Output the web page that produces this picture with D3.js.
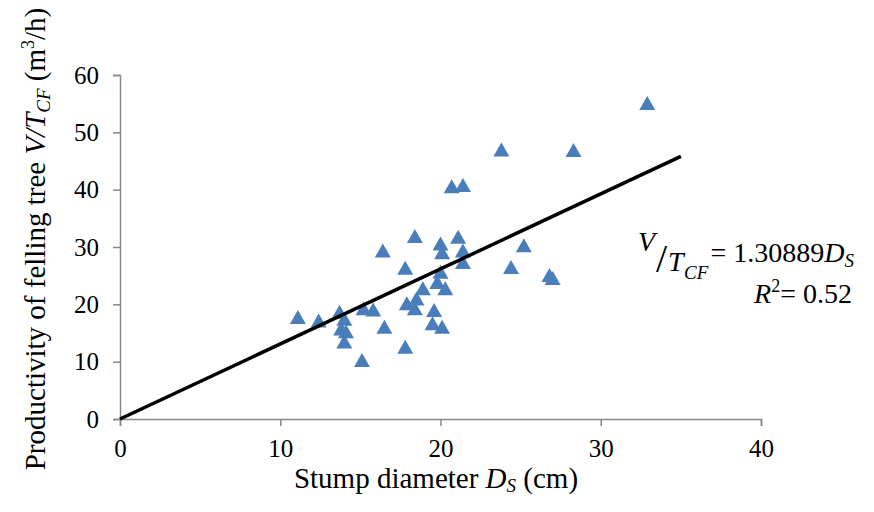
<!DOCTYPE html>
<html>
<head>
<meta charset="utf-8">
<script src="https://cdn.jsdelivr.net/npm/d3@7"></script>
<style>
  body { margin: 0; background: #fff; }
  svg text { font-family: "Liberation Serif", "Times New Roman", serif; fill: #000; }
</style>
</head>
<body>
<div id="chart"></div>
<script>
// stump diameter (cm) and felling productivity (m3/h)
var diameters = [11.1, 12.4, 13.7, 14.0, 13.8, 14.1, 14.0, 15.1, 15.2, 15.8,
                 16.4, 16.5, 17.8, 17.8, 17.9, 18.4, 18.5, 18.4, 18.9, 19.6,
                 19.5, 20.1, 20.0, 20.1, 20.0, 19.8, 20.3, 21.1, 21.4, 21.4,
                 24.4, 23.8, 20.7, 21.4, 25.2, 28.3, 32.9, 26.8, 27.0];
var productivity = [17.8, 17.2, 18.7, 17.5, 15.8, 15.3, 13.5, 10.3, 19.3, 19.1,
                    29.4, 16.1, 26.4, 12.6, 20.2, 31.9, 21.0, 19.3, 22.8, 19.0,
                    16.7, 16.1, 30.6, 29.1, 25.7, 23.9, 22.8, 31.8, 29.4, 27.4,
                    26.5, 47.0, 40.6, 40.8, 30.3, 46.9, 55.1, 25.1, 24.6];
var xTicks = [0, 10, 20, 30, 40];
var yTicks = [0, 10, 20, 30, 40, 50, 60];
var slope = 1.30889;
var fitRange = [0, 35];

var width = 874, height = 512;
var margin = {left: 120, top: 75, right: 113, bottom: 93};

var svg = d3.select("#chart")
    .append("svg")
    .attr("width", width)
    .attr("height", height);

var x = d3.scaleLinear().domain([0, 40]).range([margin.left, width - margin.right]);
var y = d3.scaleLinear().domain([0, 60]).range([height - margin.bottom, margin.top]);

var axisColor = "#868686";

var yAxis = svg.append("g")
    .attr("transform", "translate(" + margin.left + ",0)")
    .call(d3.axisLeft(y).tickValues(yTicks).tickSize(7).tickSizeOuter(7).tickPadding(14));

var xAxis = svg.append("g")
    .attr("transform", "translate(0," + y(0) + ")")
    .call(d3.axisBottom(x).tickValues(xTicks).tickSize(7).tickSizeOuter(7).tickPadding(13));

[xAxis, yAxis].forEach(function(a) {
    a.attr("font-family", null).attr("font-size", null);
    a.selectAll("path, line").attr("stroke", axisColor).attr("stroke-width", 1.5);
    a.selectAll("text").style("font-size", "25px").attr("fill", "#000");
});

// markers
var tri = function(cx, cy) {
    var w = 16, h = 14;
    return "M" + cx + "," + (cy - h / 2) + "L" + (cx + w / 2) + "," + (cy + h / 2) +
           "L" + (cx - w / 2) + "," + (cy + h / 2) + "Z";
};

svg.append("g").selectAll("path")
    .data(diameters)
    .enter().append("path")
    .attr("d", function(d, i) { return tri(x(d), y(productivity[i])); })
    .attr("fill", "#4a7ebb");

// fitted line through the origin
svg.append("line")
    .attr("x1", x(fitRange[0]))
    .attr("y1", y(slope * fitRange[0]))
    .attr("x2", x(fitRange[1]))
    .attr("y2", y(slope * fitRange[1]))
    .attr("stroke", "#000")
    .attr("stroke-width", 3.5);

// equation
var eqRight = 854;
svg.append("text").attr("x", 638).attr("y", 251)
    .style("font-size", "28px").style("font-style", "italic").text("V");
svg.append("text").attr("x", 656).attr("y", 272)
    .style("font-size", "40px").text("/");
svg.append("text").attr("x", 668).attr("y", 271)
    .style("font-size", "28px").style("font-style", "italic").text("T");
svg.append("text").attr("x", 684).attr("y", 279)
    .style("font-size", "19px").style("font-style", "italic").text("CF");

var eq1 = svg.append("text").attr("x", eqRight).attr("y", 262)
    .attr("text-anchor", "end").style("font-size", "28px");
eq1.append("tspan").text("= " + slope.toString());
eq1.append("tspan").style("font-style", "italic").text("D");
eq1.append("tspan").style("font-style", "italic").style("font-size", "19px").attr("dy", 5).text("S");

var eq2 = svg.append("text").attr("x", eqRight - 2).attr("y", 303)
    .attr("text-anchor", "end").style("font-size", "28px");
eq2.append("tspan").style("font-style", "italic").text("R");
eq2.append("tspan").style("font-size", "18px").attr("dy", -11).text("2");
eq2.append("tspan").attr("dy", 11).text("= 0.52");

// axis titles
var xt = svg.append("text")
    .attr("x", 436).attr("y", 488)
    .attr("text-anchor", "middle").style("font-size", "29px");
xt.append("tspan").text("Stump diameter ");
xt.append("tspan").style("font-style", "italic").text("D");
xt.append("tspan").style("font-style", "italic").style("font-size", "19px").attr("dy", 4).text("S");
xt.append("tspan").attr("dy", -4).text(" (cm)");

var yt = svg.append("text")
    .attr("transform", "translate(45,239) rotate(-90)")
    .attr("text-anchor", "middle").style("font-size", "29px");
yt.append("tspan").text("Productivity of felling tree ");
yt.append("tspan").style("font-style", "italic").text("V/T");
yt.append("tspan").style("font-style", "italic").style("font-size", "19px").attr("dy", 5).text("CF");
yt.append("tspan").attr("dy", -5).text(" (m");
yt.append("tspan").style("font-size", "18px").attr("dy", -11).text("3");
yt.append("tspan").attr("dy", 11).text("/h)");
</script>
</body>
</html>
